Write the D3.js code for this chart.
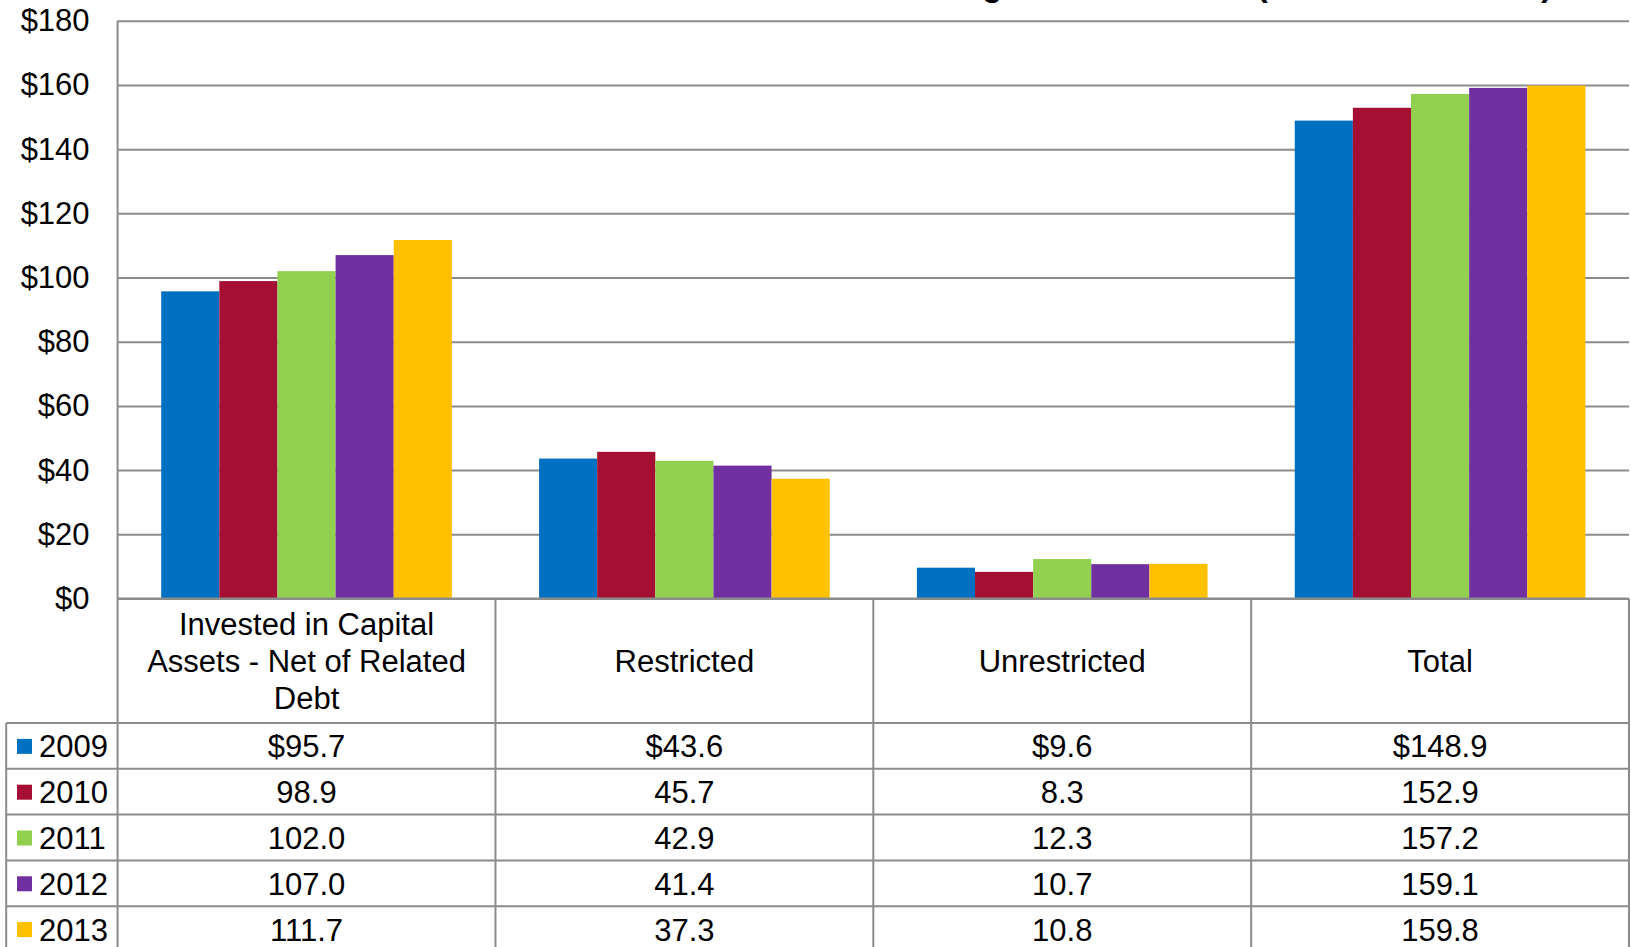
<!DOCTYPE html>
<html>
<head>
<meta charset="utf-8">
<script src="https://cdn.jsdelivr.net/npm/d3@7/dist/d3.min.js"></script>
<style>
  body { margin: 0; background: #fff; }
  svg { display: block; font-family: "Liberation Sans", Arial, sans-serif; }
</style>
</head>
<body>
<div id="chart"></div>
<script>
// data
const categories = ["Invested in Capital Assets - Net of Related Debt", "Restricted", "Unrestricted", "Total"];
const headerLines = [["Invested in Capital", "Assets - Net of Related", "Debt"], ["Restricted"], ["Unrestricted"], ["Total"]];
const years = ["2009", "2010", "2011", "2012", "2013"];
const values = {
  "2009": [95.7, 43.6, 9.6, 148.9],
  "2010": [98.9, 45.7, 8.3, 152.9],
  "2011": [102.0, 42.9, 12.3, 157.2],
  "2012": [107.0, 41.4, 10.7, 159.1],
  "2013": [111.7, 37.3, 10.8, 159.8]
};
const yTicks = [0, 20, 40, 60, 80, 100, 120, 140, 160, 180];
const colors = ["#0070C0", "#A50F34", "#92D050", "#7030A0", "#FFC000"];
const title = "Changes in Net Assets (Dollars in Millions)";

// layout
const W = 1631, H = 947;
const plotL = 117.6, plotR = 1629, plotT = 20.8, plotB = 598.5;
const headerB = 723, rowH = 45.8, legendL = 6.2;
const lineCol = "#8c8c8c";
const fs = 31;

const svg = d3.select("#chart").append("svg")
  .attr("width", W).attr("height", H);

const y = d3.scaleLinear().domain([0, 180]).range([plotB, plotT]);
const x0 = d3.scaleBand().domain(categories).range([plotL, plotR]);
const x1 = d3.scaleBand().domain(years).range([0, x0.bandwidth()])
  .paddingInner(0).paddingOuter(0.75);
const color = d3.scaleOrdinal().domain(years).range(colors);

// title (cut off at the top, as in the source)
svg.append("text")
  .attr("x", 1552).attr("y", -4.5)
  .attr("text-anchor", "end")
  .attr("font-size", 32).attr("font-weight", "bold")
  .text(title);

// gridlines
svg.append("g")
  .attr("transform", `translate(${plotL},0)`)
  .call(d3.axisLeft(y).tickValues(yTicks).tickSize(-(plotR - plotL)).tickFormat(""))
  .call(g => g.select(".domain").remove())
  .selectAll("line")
    .attr("stroke", lineCol).attr("stroke-width", 2);

// y labels
svg.append("g")
  .attr("transform", `translate(${plotL},0)`)
  .call(d3.axisLeft(y).tickValues(yTicks).tickSize(0).tickPadding(28).tickFormat(d => "$" + d))
  .call(g => g.select(".domain").remove())
  .selectAll("text")
    .attr("font-size", fs).attr("fill", "#000")
    .attr("font-family", "Liberation Sans, Arial, sans-serif");

// bars
const series = years.map(yr => ({ year: yr, vals: values[yr] }));
svg.append("g").selectAll("g")
  .data(series)
  .join("g")
    .attr("fill", d => color(d.year))
  .selectAll("rect")
  .data(d => d.vals.map((v, j) => ({ year: d.year, cat: categories[j], v })))
  .join("rect")
    .attr("x", d => x0(d.cat) + x1(d.year))
    .attr("width", x1.bandwidth())
    .attr("y", d => y(d.v))
    .attr("height", d => y(0) - y(d.v));

// data table
const tableB = headerB + rowH * years.length;
const tl = svg.append("g").attr("stroke", lineCol).attr("stroke-width", 2);

// left axis line
tl.append("line").attr("x1", plotL).attr("x2", plotL).attr("y1", plotT).attr("y2", tableB);
// column separators
categories.forEach(c => {
  const xr = x0(c) + x0.bandwidth();
  tl.append("line").attr("x1", xr).attr("x2", xr).attr("y1", plotB).attr("y2", tableB);
});
// row lines
tl.append("line").attr("x1", plotL).attr("x2", plotR).attr("y1", plotB).attr("y2", plotB);
years.forEach((yr, i) => {
  const yy = headerB + rowH * i;
  tl.append("line").attr("x1", legendL).attr("x2", plotR).attr("y1", yy).attr("y2", yy);
});
tl.append("line").attr("x1", legendL).attr("x2", legendL).attr("y1", headerB).attr("y2", tableB);

// header text
const lineH = 37;
categories.forEach((c, j) => {
  const lines = headerLines[j];
  const cy = (plotB + headerB) / 2;
  const t = svg.append("text")
    .attr("x", x0(c) + x0.bandwidth() / 2)
    .attr("text-anchor", "middle")
    .attr("font-size", fs)
    .attr("dominant-baseline", "central");
  lines.forEach((ln, k) => {
    t.append("tspan")
      .attr("x", x0(c) + x0.bandwidth() / 2)
      .attr("y", cy + (k - (lines.length - 1) / 2) * lineH)
      .text(ln);
  });
});

// value rows
years.forEach((yr, i) => {
  const cy = headerB + rowH * i + rowH / 2 + 1;
  svg.append("rect")
    .attr("x", 17).attr("y", cy - 8)
    .attr("width", 15).attr("height", 15)
    .attr("fill", color(yr));
  svg.append("text")
    .attr("x", 39).attr("y", cy)
    .attr("dominant-baseline", "central")
    .attr("font-size", fs)
    .text(yr);
  values[yr].forEach((v, j) => {
    svg.append("text")
      .attr("x", x0(categories[j]) + x0.bandwidth() / 2)
      .attr("y", cy)
      .attr("text-anchor", "middle")
      .attr("dominant-baseline", "central")
      .attr("font-size", fs)
      .text((i === 0 ? "$" : "") + v.toFixed(1));
  });
});
</script>
</body>
</html>
